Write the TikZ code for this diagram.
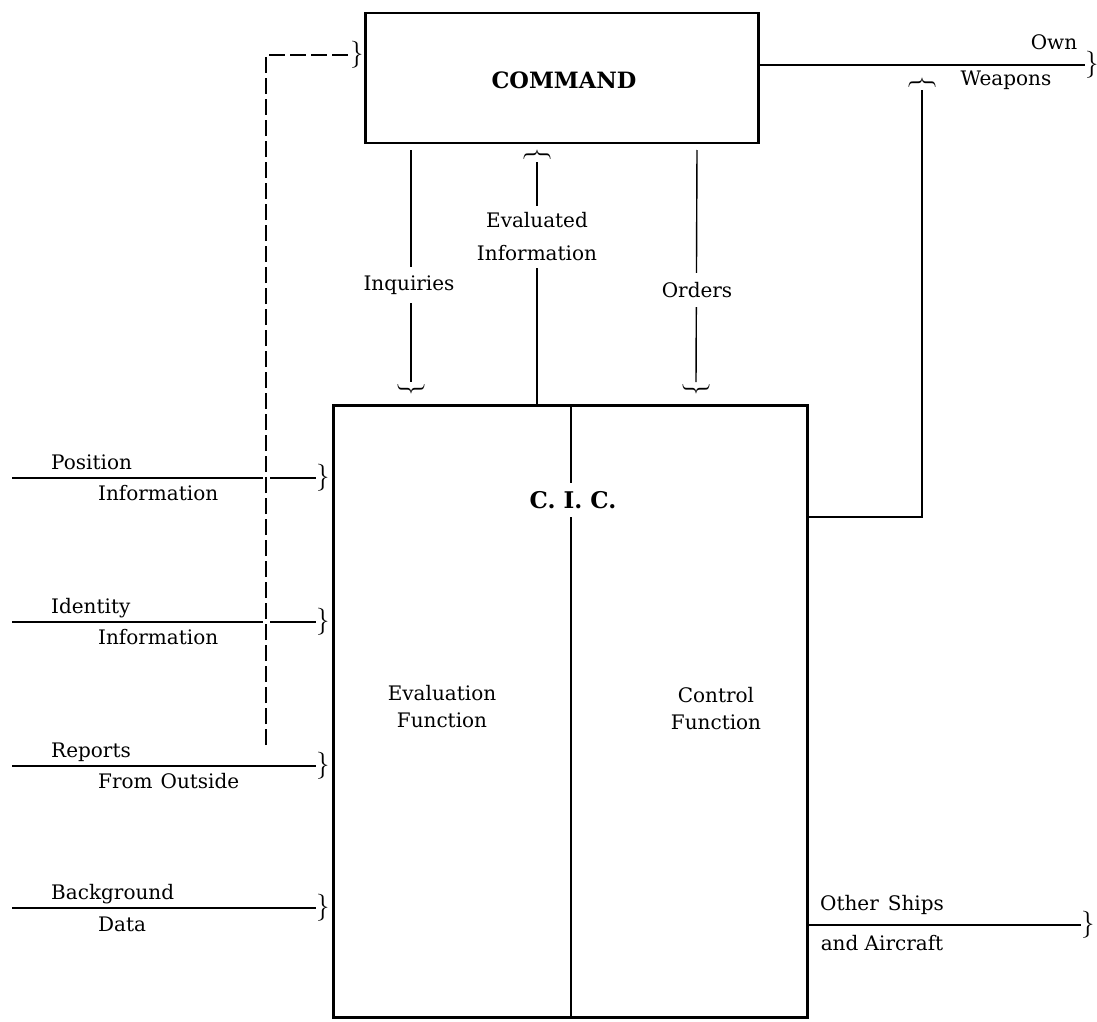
\documentclass[tikz,border=0pt]{standalone}
\usepackage{fontspec}
\setmainfont{DejaVu Serif}
\newfontfamily\brfont{Latin Modern Roman}
\begin{document}
\begin{tikzpicture}[x=1pt,y=-1pt,
  lbl/.style={font=\fontsize{20}{27}\selectfont, inner sep=1pt, align=center},
  lblw/.style={lbl, fill=white, inner xsep=2pt, inner ysep=9pt},
  lbll/.style={lbl, anchor=base west},
  brc/.style={font=\brfont\fontsize{27}{27}\selectfont, inner sep=0pt, anchor=west},
  conn/.style={line width=1.4pt},
  boxst/.style={draw, line width=2.6pt, inner sep=0pt},
  dsh/.style={line width=2.3pt, dash pattern=on 16pt off 5pt,
    preaction={draw=white, line width=7pt, solid}},
]
\useasboundingbox (0,0) rectangle (1097,1022);

% main boxes
\node[boxst, minimum width=393pt, minimum height=130pt] (cmd) at (562,78) {};
\node[font=\fontsize{22.5}{27}\selectfont\bfseries] (cmdt) at (564,80) {COMMAND};
\node[boxst, minimum width=474pt, minimum height=612pt, anchor=north west] (cic) at (332,404) {};
\coordinate (divt) at (571,404);
\coordinate (divb) at (571,1016);
\draw[conn] (divt) -- (divb);
\node[font=\fontsize{23}{27}\selectfont\bfseries, fill=white, inner xsep=1pt, inner ysep=8pt] (cict) at (573,500) {C. I. C.};
\node[lbl] (evf) at (442,707) {Evaluation\\Function};
\node[lbl] (ctf) at (716,709) {Control\\Function};

% braces
\node[brc, rotate=-90] (bInq) at (411,382) {\}};
\node[brc, rotate=90] (bEv) at (537,162) {\}};
\node[brc, rotate=-90] (bOrd) at (696,382) {\}};
\node[brc] (bOW) at (1085,65) {\}};
\node[brc, rotate=90] (bOWu) at (922,90) {\}};
\node[brc] (bOS) at (1081,925) {\}};
\node[brc] (bDash) at (350,55) {\}};
\node[brc] (bPos) at (316,478) {\}};
\node[brc] (bId) at (316,622) {\}};
\node[brc] (bRep) at (316,766) {\}};
\node[brc] (bBg) at (316,908) {\}};

% free ends
\coordinate (iq0) at (411,150);
\coordinate (or0) at (697,150);
\coordinate (owc) at (922,517);
\coordinate (pos0) at (12,478);
\coordinate (id0) at (12,622);
\coordinate (rep0) at (12,766);
\coordinate (bg0) at (12,908);
\coordinate (d0) at (266,745);
\coordinate (d1) at (266,55);

% connectors
\draw[conn] (iq0) -- (bInq.west);
\draw[conn] (or0) -- (bOrd.west);
\draw[conn] (cic.north -| bEv.west) -- (bEv.west);
\draw[conn] (cmd.east |- bOW.west) -- (bOW.west);
\draw[conn] (cic.east |- owc) -- (owc) -- (bOWu.west);
\draw[conn] (cic.east |- bOS.west) -- (bOS.west);
\draw[conn] (pos0) -- (bPos.west);
\draw[conn] (id0) -- (bId.west);
\draw[conn] (rep0) -- (bRep.west);
\draw[conn] (bg0) -- (bBg.west);
\draw[dsh] (d0) -- (d1) -- (bDash.west);

% connector labels
\node[lblw] (lInq) at (409,285) {Inquiries};
\node[lblw, font=\fontsize{20}{33}\selectfont, inner ysep=7pt] (lEv) at (537,237) {Evaluated\\Information};
\node[lblw] (lOrd) at (697,290) {Orders};
\node[lbl] (lOwn) at (1054,42) {Own};
\node[lbl] (lWea) at (1006,80) {Weapons};
\node[lbl] (lOS1) at (882,905) {Other\hspace{0.45em}Ships};
\node[lbl] (lOS2) at (882,943) {and Aircraft};
\node[lbll] (lPos1) at (50,469) {Position};
\node[lbll] (lPos2) at (97,500) {Information};
\node[lbll] (lId1) at (50,613) {Identity};
\node[lbll] (lId2) at (97,644) {Information};
\node[lbll] (lRep1) at (50,757) {Reports};
\node[lbll] (lRep2) at (97,788) {From\hspace{0.4em}Outside};
\node[lbll] (lBg1) at (50,899) {Background};
\node[lbll] (lBg2) at (97,931) {Data};
\end{tikzpicture}
\end{document}
